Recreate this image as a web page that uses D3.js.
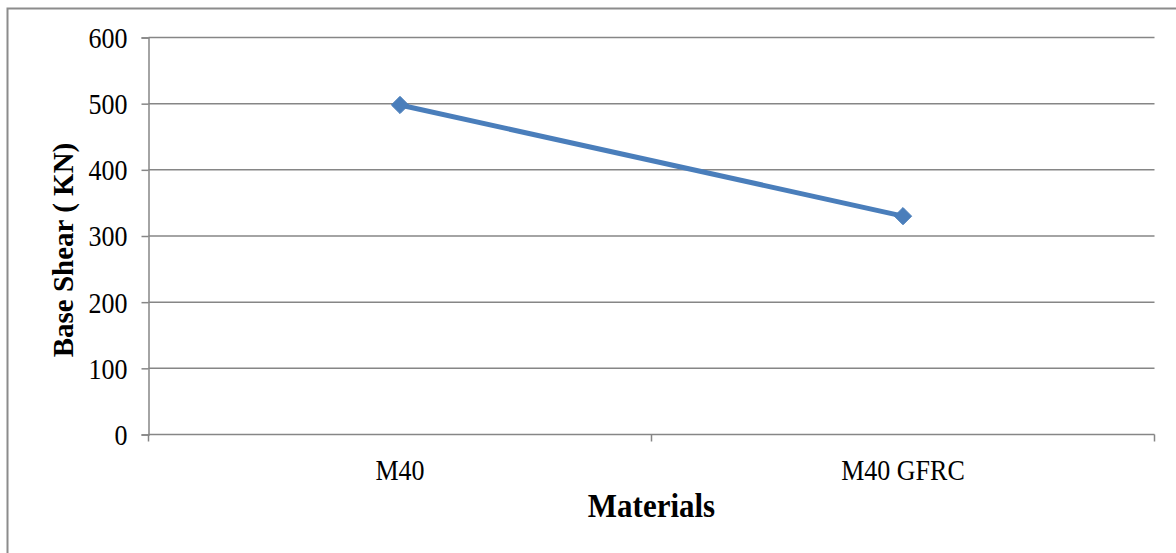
<!DOCTYPE html>
<html>
<head>
<meta charset="utf-8">
<script src="https://cdn.jsdelivr.net/npm/d3@7"></script>
<style>
  html, body { margin: 0; padding: 0; background: #fff; }
  svg { display: block; }
  text { font-family: "Liberation Serif", "Times New Roman", serif; fill: #000; }
</style>
</head>
<body>
<svg id="chart" width="1176" height="553"></svg>
<script>
// Data
const categories = ["M40", "M40 GFRC"];
const baseShear = [498, 330];
const yTicks = [0, 100, 200, 300, 400, 500, 600];

const W = 1176, H = 553;
const margin = { left: 148.5, right: 21.5, top: 37.5, bottom: 118.5 };
const textStretch = 1.12; // slightly tall glyphs for horizontal labels
const svg = d3.select("#chart");

// Outer frame
svg.append("rect")
  .attr("x", 7.5).attr("y", 8.5)
  .attr("width", W + 10).attr("height", H + 10)
  .attr("fill", "none").attr("stroke", "#8c8c8c").attr("stroke-width", 2);

const x = d3.scaleBand().domain(categories)
  .range([margin.left, W - margin.right]).paddingInner(0).paddingOuter(0);
const y = d3.scaleLinear().domain([0, 600]).range([H - margin.bottom, margin.top]);

// Horizontal gridlines
svg.append("g").selectAll("line").data(yTicks.filter(d => d > 0)).join("line")
  .attr("x1", margin.left).attr("x2", W - margin.right)
  .attr("y1", d => y(d)).attr("y2", d => y(d))
  .attr("stroke", "#868686").attr("stroke-width", 1.5);

// Y axis
const yAxis = svg.append("g")
  .attr("transform", `translate(${margin.left},0)`)
  .call(d3.axisLeft(y).tickValues(yTicks).tickSize(7).tickPadding(14).tickFormat(d3.format("d")));
yAxis.select(".domain").attr("stroke", "#868686").attr("stroke-width", 1.5);
yAxis.selectAll(".tick line").attr("stroke", "#868686").attr("stroke-width", 1.5);
yAxis.selectAll(".tick text")
  .style("font-size", "26px").style("font-family", "Liberation Serif, serif")
  .attr("fill", "#000").attr("dy", "0.34em")
  .attr("transform", `scale(1,${textStretch})`);

// X axis with tick marks at category boundaries
const xAxisG = svg.append("g").attr("transform", `translate(0,${y(0)})`);
xAxisG.append("line")
  .attr("x1", margin.left).attr("x2", W - margin.right)
  .attr("y1", 0).attr("y2", 0)
  .attr("stroke", "#868686").attr("stroke-width", 1.5);
const boundaries = categories.map(c => x(c)).concat([x(categories[categories.length - 1]) + x.bandwidth()]);
xAxisG.selectAll("line.tk").data(boundaries).join("line").attr("class", "tk")
  .attr("x1", d => d).attr("x2", d => d).attr("y1", 0).attr("y2", 7)
  .attr("stroke", "#868686").attr("stroke-width", 1.5);
xAxisG.selectAll("text").data(categories).join("text")
  .attr("transform", d => `translate(${x(d) + x.bandwidth() / 2},45) scale(1,${textStretch})`)
  .attr("text-anchor", "middle").style("font-size", "26px")
  .text(d => d);

// Series line
const pts = categories.map((c, i) => [x(c) + x.bandwidth() / 2, y(baseShear[i])]);
svg.append("path")
  .attr("d", d3.line()(pts))
  .attr("fill", "none").attr("stroke", "#4a7ebb").attr("stroke-width", 5)
  .attr("stroke-linejoin", "round");

// Diamond markers
svg.append("g").selectAll("path").data(pts).join("path")
  .attr("transform", d => `translate(${d[0]},${d[1]})`)
  .attr("d", d3.symbol().type(d3.symbolDiamond2).size(190)())
  .attr("fill", "#4a7ebb").attr("stroke", "#4a7ebb").attr("stroke-width", 1);

// Axis titles
svg.append("text")
  .attr("transform", `translate(73,250) rotate(-90)`)
  .attr("text-anchor", "middle")
  .style("font-size", "29px").style("font-weight", "bold")
  .text("Base Shear ( KN)");

svg.append("text")
  .attr("transform", `translate(${(margin.left + W - margin.right) / 2},517) scale(1,${textStretch})`)
  .attr("text-anchor", "middle")
  .style("font-size", "31px").style("font-weight", "bold")
  .text("Materials");
</script>
</body>
</html>
